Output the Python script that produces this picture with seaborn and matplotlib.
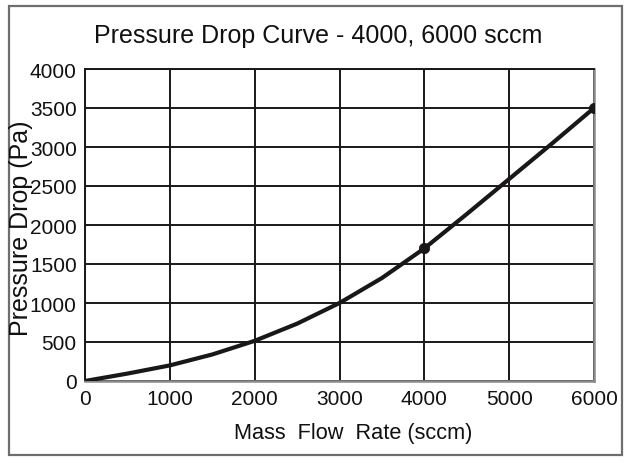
import matplotlib
matplotlib.use("Agg")
import matplotlib.pyplot as plt
import matplotlib.patches as patches
import pandas as pd
import seaborn as sns

# values
flow_rate = [0, 500, 1000, 1500, 2000, 2500, 3000, 3500, 4000, 4500, 5000, 5500, 6000]
pressure_drop = [0, 95, 200, 340, 515, 735, 1000, 1320, 1700, 2140, 2590, 3040, 3500]
marked_flow = [4000, 6000]
marked_drop = [1700, 3500]
x_ticks = [0, 1000, 2000, 3000, 4000, 5000, 6000]
y_ticks = [0, 500, 1000, 1500, 2000, 2500, 3000, 3500, 4000]

sns.set_style("white")
plt.rcParams["font.family"] = ["Liberation Sans", "DejaVu Sans"]

curve = pd.DataFrame({"flow": flow_rate, "drop": pressure_drop})
marks = pd.DataFrame({"flow": marked_flow, "drop": marked_drop})

W, H = 626, 464
fig = plt.figure(figsize=(W / 100, H / 100), dpi=100)
ax = fig.add_axes([85 / W, 1 - 382 / H, (594 - 85) / W, (382 - 70) / H])

ink = "#1a1718"
sns.lineplot(data=curve, x="flow", y="drop", color=ink, linewidth=3,
             ax=ax, zorder=4)
sns.scatterplot(data=marks, x="flow", y="drop", color=ink, s=55,
                edgecolor=ink, ax=ax, zorder=5)

ax.set_xlim(0, 6000)
ax.set_ylim(0, 4000)
ax.set_xticks(x_ticks)
ax.set_yticks(y_ticks)
ax.grid(True, color=ink, linewidth=1.4)
ax.set_axisbelow(True)

ax.set_xticklabels([str(t) for t in x_ticks], fontsize=15)
ax.set_yticklabels([str(t) for t in y_ticks], fontsize=15)
ax.tick_params(axis="both", direction="out", length=3.5, width=1.6,
               color="#999999", labelcolor="#111111")
ax.tick_params(axis="x", pad=2)
ax.tick_params(axis="y", pad=2.5)

for side in ["left", "top"]:
    ax.spines[side].set_color(ink)
    ax.spines[side].set_linewidth(1.4)
for side in ["bottom", "right"]:
    ax.spines[side].set_color("#8a8a8a")
    ax.spines[side].set_linewidth(1.8)

ax.set_xlabel("")
ax.set_ylabel("")

fig.text(318 / W, 1 - 43 / H, "Pressure Drop Curve - 4000, 6000 sccm",
         ha="center", va="baseline", fontsize=18, color="#111111")
fig.text(353 / W, 1 - 439 / H, "Mass  Flow  Rate (sccm)",
         ha="center", va="baseline", fontsize=15.7, color="#111111")
fig.text(28 / W, 1 - 228 / H, "Pressure Drop (Pa)", rotation=90,
         rotation_mode="anchor", ha="center", va="baseline",
         fontsize=18, color="#111111")

fig.patches.append(patches.Rectangle(
    (9 / W, 1 - 456 / H), (622 - 9) / W, (456 - 7) / H,
    transform=fig.transFigure, fill=False, edgecolor="#6e6e6e", linewidth=1.6))

plt.savefig("out.png", dpi=100)
